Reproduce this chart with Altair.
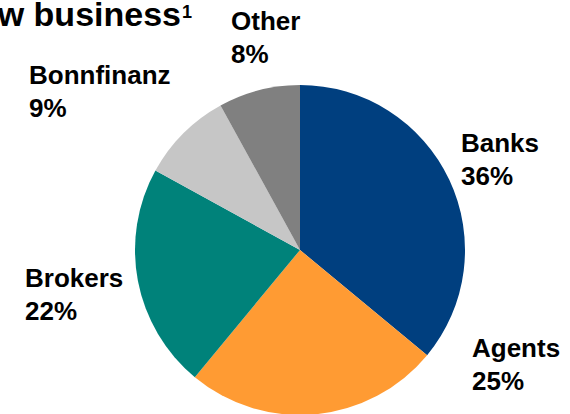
import altair as alt
import pandas as pd

categories = ["Banks", "Agents", "Brokers", "Bonnfinanz", "Other"]
shares = [36, 25, 22, 9, 8]
colors = ["#003F7F", "#FF9B33", "#00827A", "#C6C6C6", "#808080"]

df = pd.DataFrame({
    "channel": categories,
    "share": shares,
    "idx": list(range(len(categories))),
    "label": [f"{c}\n{v}%" for c, v in zip(categories, shares)],
})

FONT = "Liberation Sans"

pie = alt.Chart(df).mark_arc(outerRadius=165).encode(
    theta=alt.Theta("share:Q", stack=True),
    order=alt.Order("idx:Q"),
    color=alt.Color("channel:N", scale=alt.Scale(domain=categories, range=colors), legend=None),
    x=alt.value(300),
    y=alt.value(250),
)

# label anchor (left x, first baseline y) in pixels
label_pos = {
    "Banks": (461, 152),
    "Agents": (472, 357),
    "Brokers": (25, 287),
    "Bonnfinanz": (29, 84),
    "Other": (231, 30),
}

layers = [pie]
for cat in categories:
    lx, ly = label_pos[cat]
    layers.append(
        alt.Chart(df).transform_filter(alt.datum.channel == cat).mark_text(
            align="left", baseline="alphabetic", font=FONT, fontWeight="bold",
            fontSize=26, lineBreak="\n", lineHeight=33, color="#000000",
        ).encode(text="label:N", x=alt.value(lx), y=alt.value(ly))
    )

title_df = pd.DataFrame({"t": ["New business"], "s": ["1"]})
title = alt.Chart(title_df).mark_text(
    align="right", baseline="alphabetic", font=FONT, fontWeight="bold", fontSize=34, color="#000000",
).encode(text="t:N", x=alt.value(181), y=alt.value(26))
sup = alt.Chart(title_df).mark_text(
    align="left", baseline="alphabetic", font=FONT, fontWeight="bold", fontSize=18, color="#000000",
).encode(text="s:N", x=alt.value(182), y=alt.value(18))
layers += [title, sup]

chart = alt.layer(*layers).properties(
    width=570, height=414, padding=0, autosize=alt.AutoSizeParams(type="none"),
).configure_view(stroke=None)

chart.save("out.html", embed_options={"renderer": "svg", "actions": False})
